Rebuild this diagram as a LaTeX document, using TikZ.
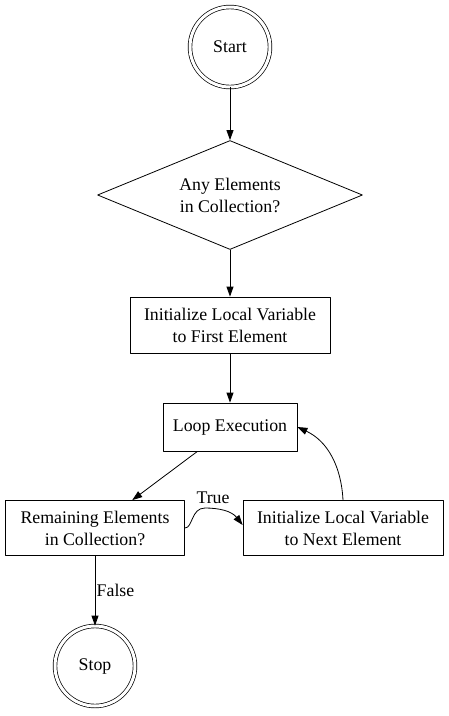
\documentclass[tikz,border=0pt]{standalone}
\usepackage{fontspec}
\setmainfont{Liberation Serif}
\usetikzlibrary{arrows.meta,shapes.geometric,positioning}

\begin{document}
\begin{tikzpicture}[x=1pt,y=1pt,line cap=round,line join=round,
  font=\fontsize{17.8}{22}\selectfont,
  flowbox/.style={draw,line width=.8pt,rectangle,align=center,inner sep=2pt},
  endpoint/.style={draw,line width=.7pt,circle,double,double distance=3pt,minimum size=80pt,inner sep=0pt},
  choice/.style={draw,line width=.8pt,diamond,aspect=2.43,align=center,inner sep=0pt,minimum width=265pt,minimum height=109pt},
  flow/.style={draw,line width=.8pt,-{Triangle[length=10pt,width=7pt]}}]
 \useasboundingbox (0,0) rectangle (449,-716);
 \node[endpoint] (start) at (230,-47) {Start};
 \node[choice] (anyelem) at (230,-195) {Any Elements\\in Collection?};
 \node[flowbox,minimum width=200pt,minimum height=56pt] (initfirst) at (230,-325)
  {Initialize Local Variable\\to First Element};
 \node[flowbox,minimum width=134pt,minimum height=48pt] (loopexec) at (230,-427) {Loop Execution};
 \node[flowbox,minimum width=179pt,minimum height=55pt] (remaining) at (95,-528)
  {Remaining Elements\\in Collection?};
 \node[flowbox,minimum width=200pt,minimum height=55pt] (initnext) at (343,-528)
  {Initialize Local Variable\\to Next Element};
 \node[endpoint] (stop) at (95,-666) {Stop};
 \coordinate (truetop) at (205,-508);
 % edges
 \draw[flow] (start) -- (anyelem);
 \draw[flow] (anyelem) -- (initfirst);
 \draw[flow] (initfirst) -- (loopexec);
 \draw[flow] (loopexec) -- (remaining);
 \draw[flow] (remaining.east) .. controls +(8,0) and +(-14,0) .. (truetop)
  .. controls +(14,0) and +(-11,14) .. ([yshift=3pt]initnext.west);
 \node[above=1pt] (truelbl) at ([xshift=8pt]truetop) {True};
 \draw[flow] (initnext.north) to[out=93,in=-25] (loopexec.east);
 \draw[flow] (remaining) -- node[pos=.5,right=-2pt] (falselbl) {False} (stop);
\end{tikzpicture}
\end{document}
